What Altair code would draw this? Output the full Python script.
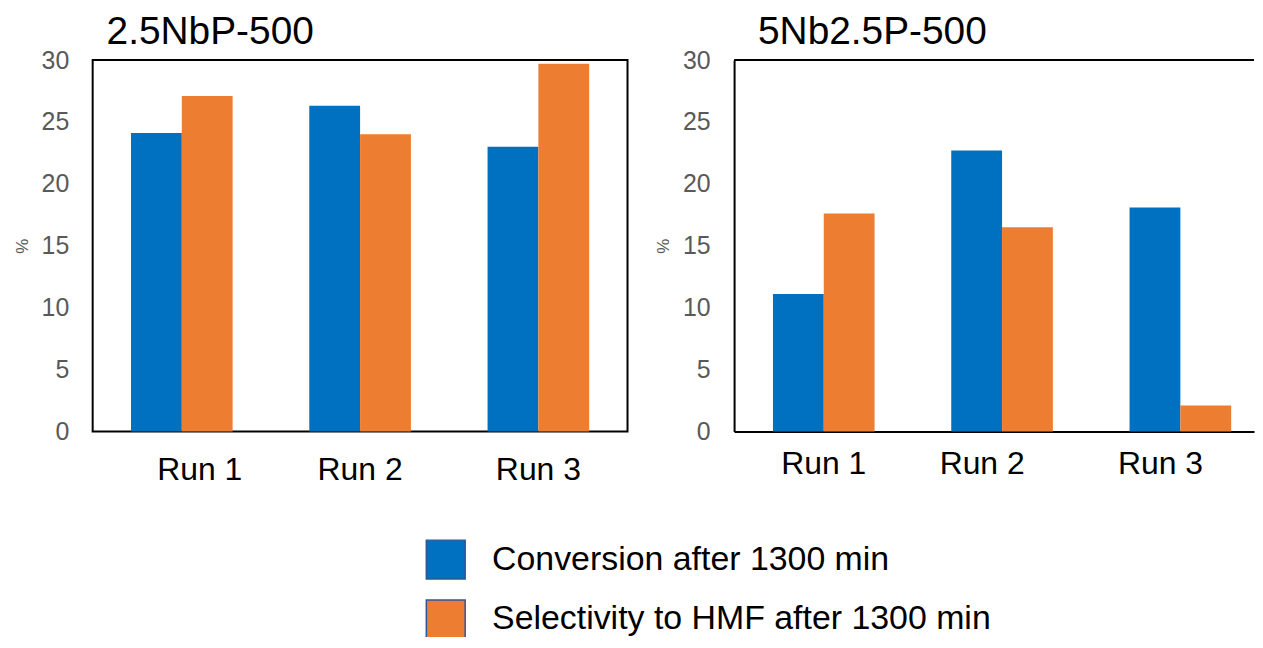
import altair as alt
import pandas as pd

runs = ["Run 1", "Run 2", "Run 3"]
series = ["Conversion after 1300 min", "Selectivity to HMF after 1300 min"]
conv_a = [24.1, 26.3, 23.0]
sel_a = [27.1, 24.0, 29.7]
conv_b = [11.1, 22.7, 18.1]
sel_b = [17.6, 16.5, 2.1]
colors = ["#0070C0", "#ED7D31"]
y_ticks = [0, 5, 10, 15, 20, 25, 30]


def frame(conv, sel):
    rows = []
    for r, c, s in zip(runs, conv, sel):
        rows.append({"run": r, "series": series[0], "value": c})
        rows.append({"run": r, "series": series[1], "value": s})
    return pd.DataFrame(rows)


FONT = "Liberation Sans"


def bars(df, xscale, label_offset, label_pad, show_domain):
    return alt.Chart(df).mark_bar().encode(
        x=alt.X("run:N", sort=runs, scale=xscale,
                axis=alt.Axis(title=None, labelAngle=0, labelFontSize=32, labelColor="black",
                              labelFont=FONT, labelPadding=label_pad, domain=show_domain,
                              domainColor="black", domainWidth=2, ticks=False,
                              labelOffset=label_offset)),
        xOffset=alt.XOffset("series:N", sort=series),
        y=alt.Y("value:Q", scale=alt.Scale(domain=[0, 30], nice=False),
                axis=alt.Axis(title="%", values=y_ticks, labelFontSize=25, labelColor="#595959",
                              labelFont=FONT, labelPadding=24, domain=show_domain,
                              domainColor="black", domainWidth=2, ticks=False, grid=False,
                              titleFontSize=17, titleColor="#595959", titleFont=FONT,
                              titleFontWeight="normal", titlePadding=10)),
        color=alt.Color("series:N", sort=series,
                        scale=alt.Scale(domain=series, range=colors),
                        legend=alt.Legend(title=None, orient="none", legendX=334, legendY=481,
                                          symbolType="square", symbolSize=1521,
                                          symbolStrokeColor="#2F5597", symbolStrokeWidth=1.5,
                                          symbolOpacity=1,
                                          labelFontSize=34, labelFont=FONT, labelColor="black",
                                          labelOffset=26, rowPadding=15, labelLimit=800)),
    )


def title(text, dx):
    return alt.TitleParams(text, anchor="start", frame="group", dx=dx, fontSize=39, font=FONT,
                           fontWeight="normal", color="black", offset=-4)


left = bars(frame(conv_a, sel_a), alt.Scale(paddingInner=0.43, paddingOuter=0.215),
            {"condition": {"test": "datum.value === 'Run 1'", "value": 18}, "value": 0}, 23,
            False).properties(width=537, height=373, title=title("2.5NbP-500", 14))

RW = 522
right_bars = bars(frame(conv_b, sel_b),
                  alt.Scale(paddingInner=0.43, paddingOuter=0.173, align=0.63),
                  {"condition": {"test": "datum.value === 'Run 1'", "value": 0}, "value": -20},
                  17, True)
top_line = alt.Chart(pd.DataFrame({"top": [30]})).mark_rule(color="black", strokeWidth=2).encode(
    y=alt.Y("top:Q"), x=alt.value(0), x2=alt.value(RW)
)
right = alt.layer(right_bars, top_line).properties(
    width=RW, height=373, title=title("5Nb2.5P-500", 24),
    view=alt.ViewBackground(stroke=None),
)

chart = alt.hconcat(left, right, spacing=26).properties(
    padding={"left": 4, "top": 3, "right": 0, "bottom": -6},
    background="white",
).configure_view(stroke="black", strokeWidth=2)

chart.save("out.html", embed_options={"renderer": "svg", "actions": False})
